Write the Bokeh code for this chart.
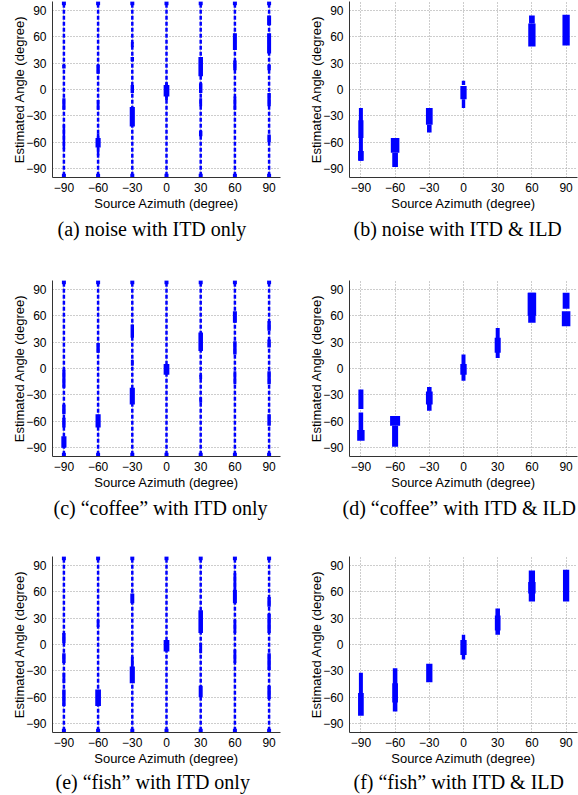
from bokeh.plotting import figure
from bokeh.layouts import column, row
from bokeh.models import FixedTicker, Title, Range1d
from bokeh.embed import file_html
from bokeh.resources import INLINE

# ---------------- data ----------------
azimuths = [-90, -60, -30, 0, 30, 60, 90]
ticks = [-90, -60, -30, 0, 30, 60, 90]
tick_labels = ["\u221290", "\u221260", "\u221230", "0", "30", "60", "90"]
est_top = 98      # largest estimate reached in ITD-only panels
est_bottom = -98  # smallest estimate reached in ITD-only panels

captions = [
    "(a) noise with ITD only",
    "(b) noise with ITD & ILD",
    "(c) \u201ccoffee\u201d with ITD only",
    "(d) \u201ccoffee\u201d with ITD & ILD",
    "(e) \u201cfish\u201d with ITD only",
    "(f) \u201cfish\u201d with ITD & ILD",
]

# ITD-only panels: dense clusters of estimates (azimuth, low, high, spread width)
a_az = [-90, -90, -90, -60, -60, -60, -60, -30, -30, -30, -30, 0, 0, 30, 30, 30, 30, 60, 60, 60, 90, 90, 90, 90, 90]
a_lo = [24, -23, -68, 18, -23, -66, -75, 48, 32, -4, -42, -8, -12, 15, -4, -19, -53, 45, 22, -23, 73, 41, 22, -19, -60]
a_hi = [28, -10, -40, 28, -12, -55, -50, 54, 37, 5, -20, 5, 8, 37, 7, -10, -47, 64, 33, -8, 84, 64, 28, -4, -51]
a_w = [3, 2.8, 2.2, 3, 2.5, 4.5, 2.2, 2.5, 3, 3, 4.5, 5, 2.5, 4, 3, 2.5, 3, 3.5, 3, 2.5, 3.5, 3.5, 3, 3, 3]

c_az = [-90, -90, -90, -90, -60, -60, -30, -30, -30, 0, 30, 30, 30, 60, 60, 60, 90, 90, 90, 90]
c_lo = [-22, -52, -67, -90, 18, -67, 35, 3, -41, -7, 20, -12, -39, 52, 16, -18, 43, 24, -18, -65]
c_hi = [-1, -41, -56, -77, 29, -52, 50, 10, -22, 5, 41, -7, -33, 65, 31, -3, 54, 33, -3, -52]
c_w = [2.8, 3, 3, 4.5, 3, 4.5, 3, 2.5, 4.5, 5, 4, 2.5, 2.5, 3.5, 3, 2.5, 3, 3, 3, 3]

e_az = [-90, -90, -90, -90, -60, -60, -30, -30, -30, 0, 30, 30, 30, 60, 60, 60, 60, 90, 90, 90, 90]
e_lo = [1.5, -21, -44, -70, 20, -70, 47, -44, -29, -8, 13, -10, -60, 47, 62, 13, -21, 43, 13, -29, -62]
e_hi = [13, -10, -32, -51, 28, -51, 58, -25, -14, 5, 39, 2, -47, 62, 81, 28, -6, 54, 35, -10, -47]
e_w = [3, 3, 2.5, 3, 2.5, 5, 3.5, 4.5, 2.5, 5, 4, 2.5, 3.5, 3.5, 2.5, 2.5, 2.5, 3, 3, 3, 3]

# ITD & ILD panels: blobs of estimates (azimuth, low, high, spread width)
b_az = [-90, -90, -90, -60, -60, -30, -30, 0, 0, 0, 60, 60, 90]
b_lo = [-81, -55, -81, -72, -88, -40, -49, 5, -11, -21, 49, 75, 50]
b_hi = [-21, -35, -70, -55, -72, -21, -40, 10, 4, -11, 75, 84, 85]
b_w = [3.5, 4.5, 5, 7.5, 5, 5.9, 4, 3, 5.5, 3, 6.4, 5, 6.4]

d_az = [-90, -90, -90, -60, -60, -30, -30, 0, 0, 30, 30, 60, 60, 90, 90]
d_lo = [-46, -71, -82, -65, -89, -48, -41, -14, -7, 12, 18, 52, 60, 68, 48]
d_hi = [-24, -50, -70, -54, -65, -21, -26, 16, 5, 46, 35, 86, 86, 86, 65]
d_w = [4.4, 4, 6.5, 8.8, 5.3, 4, 5.9, 3.5, 5.6, 3.5, 5.3, 6.5, 7.5, 6, 7.5]

f_az = [-90, -90, -60, -60, -30, 0, 0, 30, 30, 60, 60, 90]
f_lo = [-70, -81, -76, -66, -43, -17, -12, 11, 16, 49, 58, 49]
f_hi = [-32, -55, -27, -44, -22, 11, 5, 41, 33, 84, 71, 85]
f_w = [3.5, 5, 4, 5, 5.5, 3, 5.5, 4, 5, 5.5, 6.5, 5.5]

BLUE = "#0000ff"


def make_panel(caption, az, lo, hi, w, itd_only, width, height, ml, mr, mt, mb, cap_shift, cap_standoff):
    p = figure(width=width, height=height, x_range=Range1d(-100, 100), y_range=Range1d(-100, 100),
               output_backend="svg", toolbar_location=None, title=None,
               min_border_left=ml, min_border_right=mr, min_border_top=mt, min_border_bottom=mb)
    p.outline_line_color = None
    p.background_fill_color = "white"
    p.border_fill_color = "white"
    for ax in (p.xaxis[0], p.yaxis[0]):
        ax.ticker = FixedTicker(ticks=ticks)
        ax.major_label_overrides = {t: l for t, l in zip(ticks, tick_labels)}
        ax.major_label_text_font = "Liberation Sans"
        ax.major_label_text_font_size = "12px"
        ax.major_label_text_color = "black"
        ax.axis_label_text_font = "Liberation Sans"
        ax.axis_label_text_font_size = "13px"
        ax.axis_label_text_font_style = "normal"
        ax.axis_label_text_color = "black"
        ax.axis_line_color = "#333333"
        ax.major_tick_line_color = None
        ax.minor_tick_line_color = None
        ax.major_tick_in = 0
        ax.major_tick_out = 0
        ax.minor_tick_in = 0
        ax.minor_tick_out = 0
    p.xaxis.axis_label = "Source Azimuth (degree)"
    p.yaxis.axis_label = "Estimated Angle (degree)"
    p.xaxis.major_label_standoff = 5
    p.xaxis.axis_label_standoff = 1
    p.yaxis.major_label_standoff = 6
    p.yaxis.axis_label_standoff = -4
    p.grid.ticker = FixedTicker(ticks=ticks)
    p.grid.grid_line_color = "#9a9a9a"
    p.grid.grid_line_dash = "1 2"
    p.grid.grid_line_width = 1

    if itd_only:
        n = len(azimuths)
        p.segment(x0=azimuths, y0=[est_bottom] * n, x1=azimuths, y1=[est_top] * n,
                  line_color=BLUE, line_width=2.5, line_dash="4 2")
        p.scatter(x=azimuths + azimuths, y=[est_top] * n + [est_bottom] * n, marker="square",
                  size=4, fill_color=BLUE, line_color=None)
    p.vbar(x=az, bottom=lo, top=hi, width=w, fill_color=BLUE, line_color=None)

    p.add_layout(Title(text=caption, align="left", offset=cap_shift, text_font="Liberation Serif",
                       text_font_size="20px", text_font_style="normal", text_color="black",
                       standoff=cap_standoff), "below")
    return p


W1, W2 = 290, 288
ML1, ML2 = 52, 59
H = [278, 277, 240]
MT = [1, 2, 1]
MB = [101, 99, 63]
CAP_STANDOFF = [4, 4, 0]
CAP_SHIFT = [5, 4, 1, -7, 3, 4]
panels = [
    (a_az, a_lo, a_hi, a_w, True), (b_az, b_lo, b_hi, b_w, False),
    (c_az, c_lo, c_hi, c_w, True), (d_az, d_lo, d_hi, d_w, False),
    (e_az, e_lo, e_hi, e_w, True), (f_az, f_lo, f_hi, f_w, False),
]
rows = []
for r in range(3):
    left = panels[2 * r]
    right = panels[2 * r + 1]
    p1 = make_panel(captions[2 * r], *left, width=W1, height=H[r], ml=ML1, mr=10,
                    mt=MT[r], mb=MB[r], cap_shift=CAP_SHIFT[2 * r], cap_standoff=CAP_STANDOFF[r])
    p2 = make_panel(captions[2 * r + 1], *right, width=W2, height=H[r], ml=ML2, mr=1,
                    mt=MT[r], mb=MB[r], cap_shift=CAP_SHIFT[2 * r + 1], cap_standoff=CAP_STANDOFF[r])
    rows.append(row(p1, p2))

layout = column(*rows)
open("out.html", "w").write(file_html(layout, INLINE))
